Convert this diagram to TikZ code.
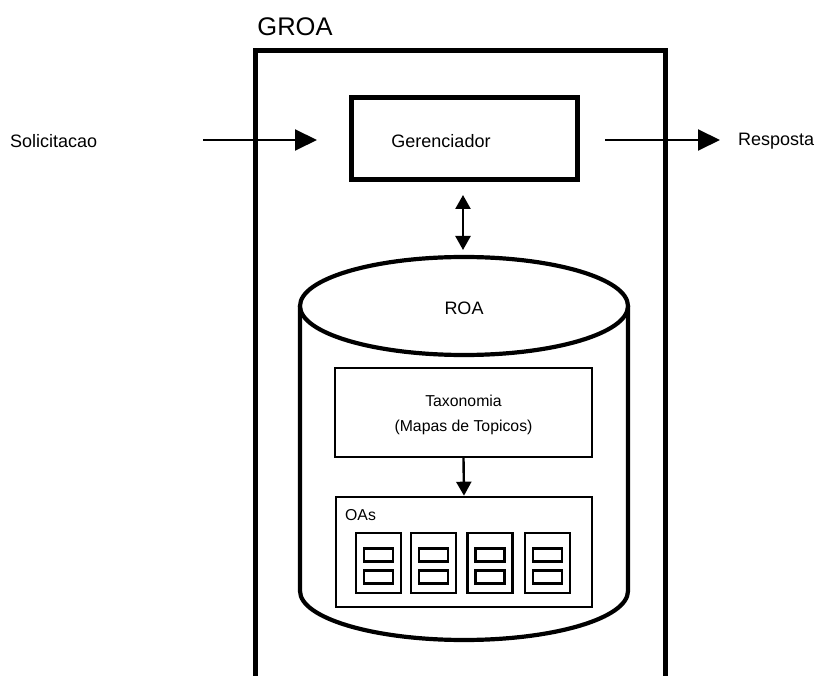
\documentclass[tikz,border=0pt]{standalone}
\usepackage{fontspec}
\setmainfont{Liberation Sans}
\usetikzlibrary{arrows.meta}
\begin{document}
\begin{tikzpicture}[x=1pt,y=-1pt,
  thickbox/.style={draw,line width=4.2pt,rectangle,inner sep=0pt},
  thinbox/.style={draw,line width=2.2pt,rectangle,inner sep=0pt},
  conn/.style={line width=2pt,-{Triangle[length=22pt,width=21pt]}},
  vconn/.style={line width=2.4pt,-{Triangle[length=14pt,width=15pt]}},
  lbl/.style={font=\fontsize{18}{22}\selectfont,inner sep=0pt}]
\useasboundingbox (0,0) rectangle (823,676);
% GROA frame
\draw[line width=5pt] (255,680) -- (255,51) -- (665,51) -- (665,680);
\node[font=\fontsize{25.5}{30}\selectfont,inner sep=0pt] (groa) at (295,27) {GROA};
% Gerenciador
\node[thickbox,minimum width=226pt,minimum height=82pt] (ger) at (464.5,138.5) {};
\node[lbl] (gertxt) at (441,141) {Gerenciador};
% Solicitacao / Resposta
\node[lbl,anchor=west] (sol) at (10,141) {Solicitacao};
\node[lbl,anchor=west] (resp) at (738,141) {Resposta};
\coordinate (solS) at (203,140);
\coordinate (solE) at (317,140);
\coordinate (resS) at (605,140);
\coordinate (resE) at (720,140);
\draw[conn] (solS) -- (solE);
\draw[conn] (resS) -- (resE);
% double arrow
\coordinate (dtop) at (463,195);
\coordinate (dbot) at (463,250);
\draw[line width=2.4pt,{Triangle[length=14pt,width=15pt]}-{Triangle[length=14pt,width=15pt]}] (dtop) -- (dbot);
% Cylinder
\draw[line width=4.2pt] (300,306) -- (300,591) arc[start angle=180,end angle=360,x radius=164,y radius=-49] -- (628,306);
\draw[line width=4.2pt,fill=white] (464,306) ellipse[x radius=164,y radius=49];
\node[lbl] (roa) at (464,308) {ROA};
% Taxonomia
\node[thinbox,minimum width=257pt,minimum height=89pt] (tax) at (463.5,412.5) {};
\node[font=\fontsize{15.8}{25}\selectfont,align=center,inner sep=0pt] (taxtxt) at (463.5,415) {Taxonomia\\(Mapas de Topicos)};
% OAs
\node[thinbox,line width=2.6pt,minimum width=256pt,minimum height=110pt] (oas) at (464,552) {};
\node[font=\fontsize{15.8}{19}\selectfont,inner sep=0pt,anchor=west] (oastxt) at (345,515) {OAs};
\draw[vconn] (tax.south) -- (oas.north);
% documents
\foreach \i/\x in {1/378.5,2/433.5,3/490,4/547.5}{
  \node[thinbox,line width=2.4pt,minimum width=45pt,minimum height=60pt] (doc\i) at (\x,563) {};
  \node[thinbox,minimum width=29pt,minimum height=13pt] (doc\i a) at (\x,555) {};
  \node[thinbox,minimum width=29pt,minimum height=13pt] (doc\i b) at (\x,577) {};
}
\end{tikzpicture}
\end{document}
